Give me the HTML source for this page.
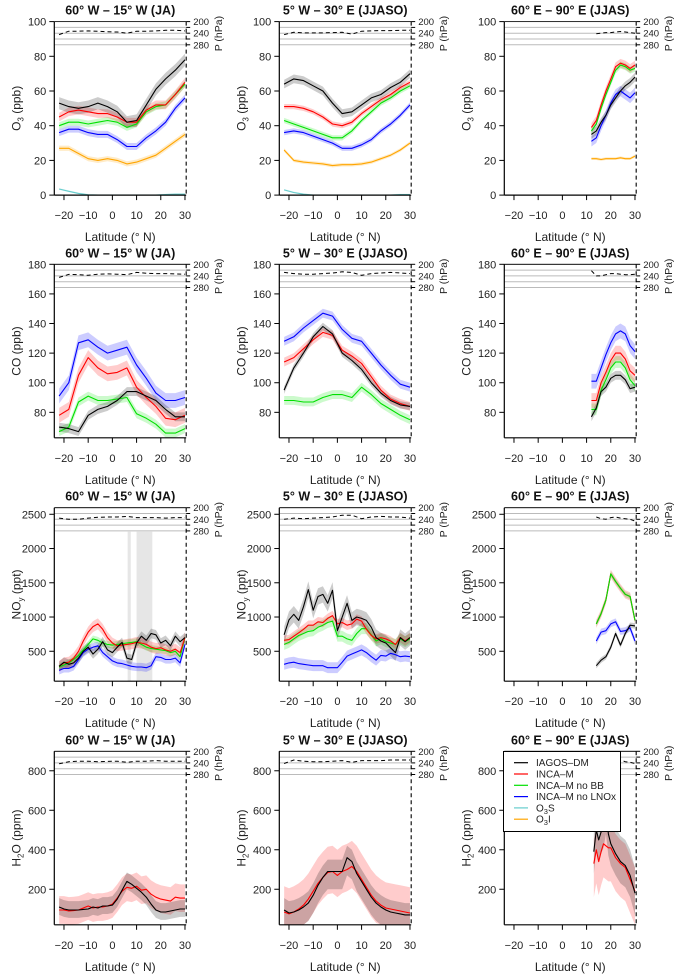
<!DOCTYPE html>
<html><head><meta charset="utf-8"><style>
html,body{margin:0;padding:0;background:#fff}
svg{display:block;font-family:"Liberation Sans",Arial,sans-serif}
</style></head><body>
<svg id="chart" width="678" height="978" viewBox="0 0 678 978" xmlns="http://www.w3.org/2000/svg"></svg>
<script>
// ---------- latitude grids ----------
const latA = [-22,-18,-14,-10,-6,-2,2,6,10,14,18,22,26,30];
const latC = [-22,-20,-18,-16,-14,-12,-10,-8,-6,-4,-2,0,2,4,6,8,10,12,14,16,18,20,22,24,26,28,30];
const latB = [12,14,16,18,20,22,24,26,28,30];
const latD = [14,16,18,20,22,24,26,28,30];
const latE = [13,14,15,16,17,18,19,20,22,24,26,28,30];

// ---------- O3 ----------
const o3W_iagos = [53,51,50,51,53,51,48,42,43,52,61,67,72,78];
const o3W_inca = [45,48,49,48,47,47,45,42,42,49,52,52,58,65];
const o3W_noBB = [40,42,42,41,42,43,42,39,41,48,51,52,58,64];
const o3W_noLNOx = [36,38,38,36,35,35,32,28,28,33,37,42,50,56];
const o3W_o3i = [27,27,24,21,20,21,20,18,19,21,23,27,31,35];
const o3W_o3s = [3.5,2.2,1,0.2,0,0,0,0,0,0,0,0.3,0.5,0.5];
const o3W_p = [245,233,233,232,233,235,236,240,233,233,232,230,230,232];

const o3A_iagos = [64,67,66,63,60,53,47,48,52,56,58,62,65,70];
const o3A_inca = [51,51,50,48,45,41,40,42,47,51,55,58,62,65];
const o3A_noBB = [43,41,39,37,35,33,33,37,43,48,53,56,60,63];
const o3A_noLNOx = [36,37,36,34,32,30,27,27,29,32,37,41,46,52];
const o3A_o3i = [26,20,19,18.5,18,17,17.5,17.5,18,19,21,23,26,30];
const o3A_o3s = [3,1.5,0.5,0,0,0,0,0,0,0,0,0,0.3,0.3];
const o3A_p = [245,237,239,239,239,238,237,243,233,232,231,231,230,230];

const o3I_iagos = [35,37,42,46,52,56,60,63,65,68];
const o3I_inca = [39,43,52,60,67,74,76,75,73,75];
const o3I_noBB = [37,41,50,58,65,72,75,74,72,73];
const o3I_noLNOx = [31,33,40,46,53,58,60,58,56,59];
const o3I_o3i = [21,21,20.5,21,21,21,21.5,21,21,22.5];
const o3I_p = [236,242,240,238,238,236,234,236,238,240];

// ---------- CO ----------
const coW_iagos = [70,69,67,78,82,84,88,94,94,91,88,82,77,77];
const coW_inca = [78,82,105,117,110,106,107,110,97,90,84,76,75,78];
const coW_noBB = [67,70,87,91,88,88,89,90,79,76,72,66,66,69];
const coW_noLNOx = [91,100,127,129,124,120,122,124,112,103,93,88,88,90];
const coW_p = [245,235,236,238,234,233,234,236,228,231,232,232,233,234];

const coA_iagos = [95,110,120,131,138,133,120,115,109,100,93,88,85,84];
const coA_inca = [114,117,123,129,134,132,122,118,113,104,95,89,86,84];
const coA_noBB = [88,88,87,87,90,92,92,90,97,92,86,82,78,75];
const coA_noLNOx = [128,131,137,142,147,145,136,130,128,120,112,105,99,97];
const coA_p = [228,232,234,234,232,230,226,228,238,232,230,228,230,232];

const coI_iagos = [77,83,94,97,103,105,105,102,96,97];
const coI_inca = [88,88,100,107,115,120,120,116,108,105];
const coI_noBB = [82,82,95,102,110,114,114,110,102,98];
const coI_noLNOx = [101,101,110,119,127,133,135,133,125,121];
const coI_p = [222,240,240,236,232,232,234,236,236,234];

// ---------- NOy ----------
const noyW_iagos = [280,340,310,330,400,500,560,460,530,640,520,480,560,630,400,380,620,720,660,760,740,620,660,580,720,640,700];
const noyW_inca = [280,330,340,400,500,650,780,860,900,820,700,620,580,590,600,610,630,620,600,560,540,550,520,500,530,480,700];
const noyW_noBB = [270,300,330,380,440,520,600,680,660,620,600,590,600,610,620,630,640,600,560,540,530,520,510,480,500,420,700];
const noyW_noLNOx = [220,250,250,280,380,480,530,560,580,480,420,360,330,320,300,280,270,270,260,290,420,410,380,380,400,330,600];
const noyW_p = [236,240,240,236,233,232,232,230,234,234,234,236,234,234];
const noyW_gapLo = [6.3,10];
const noyW_gapHi = [7.6,16.5];

const noyA_iagos = [740,960,1040,950,1150,1400,1100,1300,1330,1200,1390,800,1000,1200,950,1000,980,950,850,700,650,620,550,480,700,640,700];
const noyA_inca = [660,670,720,770,820,880,880,930,920,980,1020,900,920,880,900,970,940,820,730,680,700,680,650,600,700,650,700];
const noyA_noBB = [600,630,680,730,760,790,800,850,880,920,940,720,720,680,660,760,830,830,740,650,680,640,620,600,680,640,680];
const noyA_noLNOx = [310,330,340,320,310,300,290,290,290,260,260,260,340,430,460,490,520,480,420,370,440,430,470,450,420,430,420];
const noyA_p = [240,236,238,236,234,232,226,226,238,232,230,232,232,236];

const noyI_iagos = [290,370,420,560,760,590,760,880,870];
const noyI_inca = [900,1050,1250,1630,1520,1420,1330,1300,950];
const noyI_noBB = [900,1050,1250,1630,1520,1420,1330,1300,950];
const noyI_noLNOx = [650,780,800,900,930,790,800,840,650];
const noyI_p = [232,238,240,234,232,236,238,240,246];

// ---------- H2O ----------
const h2oW_iagos = [110,100,95,95,95,98,100,110,105,115,115,120,150,195,240,225,205,185,160,125,95,85,85,90,95,100,100];
const h2oW_inca = [95,95,90,92,95,105,115,105,110,110,115,125,155,190,210,205,215,195,200,175,160,150,145,140,160,155,155];
const h2oW_p = [243,236,234,234,236,235,234,238,234,234,232,234,234,234];

const h2oA_iagos = [95,80,85,95,110,130,170,220,260,290,290,290,290,360,340,280,240,200,160,130,110,95,85,80,75,70,70];
const h2oA_inca = [85,75,85,100,120,150,190,230,260,285,290,270,290,300,315,290,250,210,170,140,120,105,100,95,90,85,80];
const h2oA_p = [242,230,234,236,236,234,232,238,232,232,232,230,230,230];

const h2oI_iagos = [390,500,450,490,520,590,480,430,380,340,320,270,180];
const h2oI_inca = [330,400,340,390,430,420,410,410,360,330,310,250,190];
const h2oI_p = [235,240,236,236,232,230,236,238,242];

// ---------- axis ticks ----------
const xTicks = [-20,-10,0,10,20,30];
const yTicksO3 = [0,20,40,60,80,100];
const yTicksCO = [80,100,120,140,160,180];
const yTicksNOy = [500,1000,1500,2000,2500];
const yTicksH2O = [200,400,600,800];
const pTicks = [200,220,240,260,280];
const pLabels = [200,240,280];
const titles = ["60° W – 15° W (JA)","5° W – 30° E (JJASO)","60° E – 90° E (JJAS)"];
const legendLabels = ["IAGOS–DM","INCA–M","INCA–M no BB","INCA–M no LNOx","O3S","O3I"];

// ---------- geometry ----------
const NS = "http://www.w3.org/2000/svg";
const svg = document.getElementById('chart');
const plotLefts = [54.3, 279.3, 504.3];
const rowTops = [21.6, 264.3, 507.7, 751.3];
const PH = 173.5;
const XMIN = -24, XMAX = 30.5, PXDEG = 2.42;
const COL = {iagos:'#000000', inca:'#ff0000', noBB:'#00e000', noLNOx:'#0000ff', o3s:'#66cccc', o3i:'#ffa500'};
const BAND = {iagos:'rgba(0,0,0,0.2)', inca:'rgba(255,0,0,0.2)', noBB:'rgba(0,230,0,0.2)', noLNOx:'rgba(0,0,255,0.2)', o3s:'rgba(102,204,204,0.2)', o3i:'rgba(255,165,0,0.22)'};

function mk(tag, attrs, parent){
  const e = document.createElementNS(NS, tag);
  for (const k in attrs) e.setAttribute(k, attrs[k]);
  (parent||svg).appendChild(e);
  return e;
}
function fmt(v){ return v<0 ? '−'+Math.abs(v) : String(v); }

function drawPanel(col, row, ymin, ymax, yTicks, ylabelParts, series, pLat, pVals, gaps){
  const L = plotLefts[col], T = rowTops[row], B = T+PH;
  const R = L + (XMAX-XMIN)*PXDEG;
  const xs = v => L + (v-XMIN)*PXDEG;
  const ys = v => B - (v-ymin)/(ymax-ymin)*PH;
  const yp = p => T + (p-200)*0.29;
  const g = mk('g', {});
  
  
  const clipId = 'clip'+row+col;
  const cp = mk('clipPath', {id:clipId}, g);
  mk('rect', {x:L, y:T, width:R-L, height:PH}, cp);

  if (gaps){
    for (let i=0;i<gaps[0].length;i++){
      const r = mk('rect', {x:xs(gaps[0][i]), y:T+24, width:xs(gaps[1][i])-xs(gaps[0][i]), height:PH-24, fill:'#e6e6e6'}, g);
      
      
    }
  }
  const data = mk('g', {'clip-path':'url(#'+clipId+')'}, g);
  series.forEach(s => {
    const up = s.vals.map((v,i)=>[xs(s.lat[i]), ys(v + s.hi)]);
    const lo = s.vals.map((v,i)=>[xs(s.lat[i]), ys(Math.max(ymin, v - s.lo))]).reverse();
    const poly = mk('polygon', {points: up.concat(lo).map(p=>p.join(',')).join(' '), fill: BAND[s.key]}, data);
    
    
  });
  series.forEach(s => {
    const pts = s.vals.map((v,i)=>xs(s.lat[i]).toFixed(1)+','+ys(v).toFixed(1)).join(' ');
    const pl = mk('polyline', {points:pts, fill:'none', stroke:COL[s.key], 'stroke-width':1.1, 'stroke-linejoin':'round'}, data);
    
    
  });

  pTicks.forEach(p => {
    const ln = mk('line', {x1:L, x2:R, y1:yp(p), y2:yp(p), stroke:'#bbbbbb', 'stroke-width':1}, g);
    
    
  });
  const pp = pVals.map((v,i)=>xs(pLat[i]).toFixed(1)+','+yp(v).toFixed(1)).join(' ');
  const pl = mk('polyline', {points:pp, fill:'none', stroke:'#000', 'stroke-width':1, 'stroke-dasharray':'4,3'}, g);
  
  
  pTicks.forEach(p => mk('line', {x1:R, x2:R+4, y1:yp(p), y2:yp(p), stroke:'#000', 'stroke-width':1}, g));
  pLabels.forEach(p => {
    const t = mk('text', {x:R+7, y:yp(p)+3.5, 'font-size':9.5, fill:'#222'}, g);
    t.textContent = p;
    
    
  });
  const pt = mk('text', {x:0, y:0, 'font-size':10.5, fill:'#222', 'text-anchor':'middle', transform:'translate('+(R+36)+','+(T+12)+') rotate(-90)'}, g);
  pt.textContent = 'P (hPa)';
  
  

  mk('line', {x1:L, x2:L, y1:T, y2:B, stroke:'#000', 'stroke-width':1.2}, g);
  mk('line', {x1:L, x2:R, y1:B, y2:B, stroke:'#000', 'stroke-width':1.2}, g);
  mk('line', {x1:L, x2:R, y1:T, y2:T, stroke:'#000', 'stroke-width':0.8}, g);
  const rd = mk('line', {x1:R, x2:R, y1:T, y2:B, stroke:'#000', 'stroke-width':1.1, 'stroke-dasharray':'4,3'}, g);
  
  
  yTicks.forEach(v => {
    mk('line', {x1:L-5, x2:L, y1:ys(v), y2:ys(v), stroke:'#000', 'stroke-width':1}, g);
    const t = mk('text', {x:L-8, y:ys(v)+4, 'font-size':11, 'text-anchor':'end', fill:'#222'}, g);
    t.textContent = v;
    
    
  });
  xTicks.forEach(v => {
    mk('line', {x1:xs(v), x2:xs(v), y1:B, y2:B+5, stroke:'#000', 'stroke-width':1}, g);
    const t = mk('text', {x:xs(v), y:B+24, 'font-size':11, 'text-anchor':'middle', fill:'#222'}, g);
    t.textContent = fmt(v);
    
    
  });
  const xl = mk('text', {x:(L+R)/2, y:B+46, 'font-size':12, 'text-anchor':'middle', fill:'#222'}, g);
  xl.textContent = 'Latitude (° N)';
  
  
  const ti = mk('text', {x:(L+R)/2, y:T-7, 'font-size':12.5, 'font-weight':'bold', 'text-anchor':'middle', fill:'#111'}, g);
  ti.textContent = titles[col];
  
  
  const yl = mk('text', {x:0, y:0, 'font-size':12, 'text-anchor':'middle', fill:'#222', transform:'translate('+(L-34)+','+(T+PH/2)+') rotate(-90)'}, g);
  
  
  ylabelParts.forEach(p => {
    const ts = mk('tspan', {}, yl);
    if (p.sub){ ts.setAttribute('font-size', 8); ts.setAttribute('dy', 3); }
    else if (p.after){ ts.setAttribute('dy', -3); }
    ts.textContent = p.t;
  });
}

function S(key, lat, vals, lo, hi){ return {key, lat, vals, lo, hi: (hi===undefined?lo:hi)}; }
const labO3 = [{t:'O'},{t:'3',sub:true},{t:' (ppb)',after:true}];
const labCO = [{t:'CO (ppb)'}];
const labNOy = [{t:'NO'},{t:'y',sub:true},{t:' (ppt)',after:true}];
const labH2O = [{t:'H'},{t:'2',sub:true},{t:'O (ppm)',after:true}];

drawPanel(0,0,0,100,yTicksO3,labO3,[S('o3s',latA,o3W_o3s,0.5),S('o3i',latA,o3W_o3i,1.5),S('noLNOx',latA,o3W_noLNOx,2),S('noBB',latA,o3W_noBB,2),S('inca',latA,o3W_inca,2.5),S('iagos',latA,o3W_iagos,3.5)],latA,o3W_p);
drawPanel(1,0,0,100,yTicksO3,labO3,[S('o3s',latA,o3A_o3s,0.5),S('o3i',latA,o3A_o3i,1),S('noLNOx',latA,o3A_noLNOx,1.5),S('noBB',latA,o3A_noBB,1.5),S('inca',latA,o3A_inca,1.5),S('iagos',latA,o3A_iagos,2.5)],latA,o3A_p);
drawPanel(2,0,0,100,yTicksO3,labO3,[S('o3i',latB,o3I_o3i,0.8),S('noLNOx',latB,o3I_noLNOx,3),S('noBB',latB,o3I_noBB,2),S('inca',latB,o3I_inca,2.5),S('iagos',latB,o3I_iagos,2.5)],latB.slice(1),o3I_p.slice(1));
drawPanel(0,1,62.8,180,yTicksCO,labCO,[S('noLNOx',latA,coW_noLNOx,5),S('noBB',latA,coW_noBB,3),S('inca',latA,coW_inca,5),S('iagos',latA,coW_iagos,3)],latA,coW_p);
drawPanel(1,1,62.8,180,yTicksCO,labCO,[S('noLNOx',latA,coA_noLNOx,3),S('noBB',latA,coA_noBB,3),S('inca',latA,coA_inca,3),S('iagos',latA,coA_iagos,2.5)],latA,coA_p);
drawPanel(2,1,62.8,180,yTicksCO,labCO,[S('noLNOx',latB,coI_noLNOx,5),S('noBB',latB,coI_noBB,4),S('inca',latB,coI_inca,5),S('iagos',latB,coI_iagos,3)],latB,coI_p);
drawPanel(0,2,63,2596,yTicksNOy,labNOy,[S('noLNOx',latC,noyW_noLNOx,60),S('noBB',latC,noyW_noBB,50),S('inca',latC,noyW_inca,80),S('iagos',latC,noyW_iagos,70)],latA,noyW_p,[noyW_gapLo,noyW_gapHi]);
drawPanel(1,2,63,2596,yTicksNOy,labNOy,[S('noLNOx',latC,noyA_noLNOx,80),S('noBB',latC,noyA_noBB,80),S('inca',latC,noyA_inca,70),S('iagos',latC,noyA_iagos,120)],latA,noyA_p);
drawPanel(2,2,63,2596,yTicksNOy,labNOy,[S('noLNOx',latD,noyI_noLNOx,50),S('inca',latD,noyI_inca,60),S('noBB',latD,noyI_noBB,40),S('iagos',latD,noyI_iagos,40)],latD,noyI_p);
drawPanel(0,3,20,898.6,yTicksH2O,labH2O,[S('inca',latC,h2oW_inca,70,70),S('iagos',latC,h2oW_iagos,40,45)],latA,h2oW_p);
drawPanel(1,3,20,898.6,yTicksH2O,labH2O,[S('inca',latC,h2oA_inca,110,130),S('iagos',latC,h2oA_iagos,90,60)],latA,h2oA_p);
drawPanel(2,3,20,898.6,yTicksH2O,labH2O,[S('inca',latE,h2oI_inca,170,120),S('iagos',latE,h2oI_iagos,110,130)],latD,h2oI_p);

// legend
const lg = mk('g', {});


mk('rect', {x:503.5, y:751.5, width:117, height:80, fill:'#fff', stroke:'#000', 'stroke-width':1}, lg);
const legKeys = ['iagos','inca','noBB','noLNOx','o3s','o3i'];
legKeys.forEach((k,i) => {
  const y = 762.7 + i*11.3;
  const ln = mk('line', {x1:514, x2:528, y1:y, y2:y, stroke:COL[k], 'stroke-width':1.2}, lg);
  
  
  const t = mk('text', {x:536, y:y+3.5, 'font-size':10, fill:'#222'}, lg);
  
  
  const lab = legendLabels[i];
  if (lab.startsWith('O3')){
    const a = mk('tspan', {}, t); a.textContent = 'O';
    const b = mk('tspan', {'font-size':7.5, dy:2.5}, t); b.textContent = '3';
    const c = mk('tspan', {dy:-2.5}, t); c.textContent = lab.slice(2);
  } else {
    t.textContent = lab;
  }
});
</script>
</body></html>
